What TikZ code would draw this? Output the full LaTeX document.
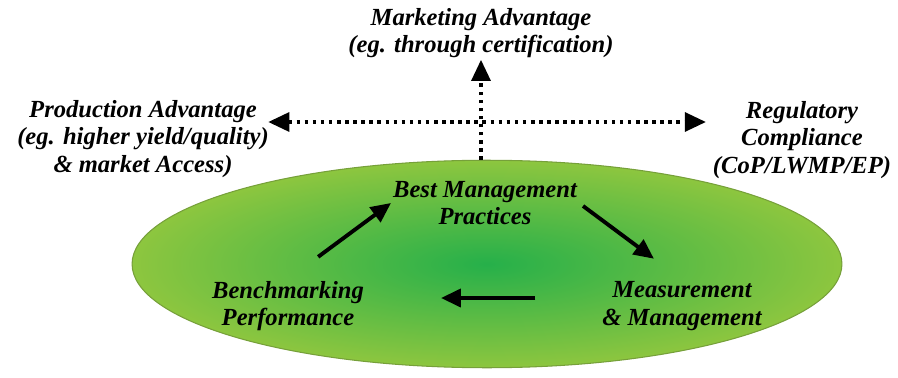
\documentclass[tikz,border=0pt]{standalone}
\usepackage{fontspec}
\setmainfont{Liberation Serif}
\usetikzlibrary{arrows.meta, positioning, shapes.geometric, calc}

\definecolor{leafouter}{RGB}{141,198,63}
\definecolor{leafinner}{RGB}{38,176,74}
\definecolor{leafrim}{RGB}{118,160,58}

\begin{document}
\begin{tikzpicture}[
    x=0.02cm, y=-0.02cm,
    label/.style={align=center, inner sep=1pt, font=\fontsize{14}{15.5}\selectfont\bfseries\itshape},
    field/.style={ellipse, draw=leafrim, line width=0.6pt, inner color=leafinner, outer color=leafouter, minimum width=14.2cm, minimum height=4.15cm},
    cyclearrow/.style={-{Triangle[length=0.4cm, width=0.36cm]}, line width=2.2pt},
    dotarrow/.style={-{Triangle[length=0.42cm, width=0.38cm]}, line width=1.8pt, dash pattern=on 2pt off 2.6pt}
]
\useasboundingbox (0,0) rectangle (898,378);

% Nodes
\node[field] (field) at (487,264) {};
\node[label] (market) at (481,33) {Marketing Advantage\\(eg. through certification)};
\node[label] (prod) at (143,139) {Production Advantage\\(eg. higher yield/quality)\\\& market Access)};
\node[label] (reg) at (802,140) {Regulatory\\Compliance\\(CoP/LWMP/EP)};
\node[label] (bmp) at (485,203) {Best Management\\Practices};
\node[label] (bench) at (288,306) {Benchmarking\\Performance};
\node[label] (meas) at (682,306) {Measurement\\\& Management};

% Arrows for the cycle
\draw[cyclearrow, shorten <=0.75cm] (bench.north) -- (bmp.west);
\draw[cyclearrow, shorten <=0.1cm, shorten >=0.7cm] (bmp.east) -- (meas.north);
\draw[cyclearrow, shorten <=1.3cm, shorten >=1.5cm] ([yshift=0.16cm]meas.west) -- ([yshift=0.16cm]bench.east);

% Outcomes
\draw[dotarrow] (market.south |- field.north) -- (market.south);
\draw[dotarrow, {Triangle[length=0.42cm, width=0.38cm]}-{Triangle[length=0.42cm, width=0.38cm]}] ([yshift=0.34cm, xshift=-0.05cm]prod.east) -- ([yshift=0.36cm, xshift=-0.1cm]reg.west);

\end{tikzpicture}
\end{document}
